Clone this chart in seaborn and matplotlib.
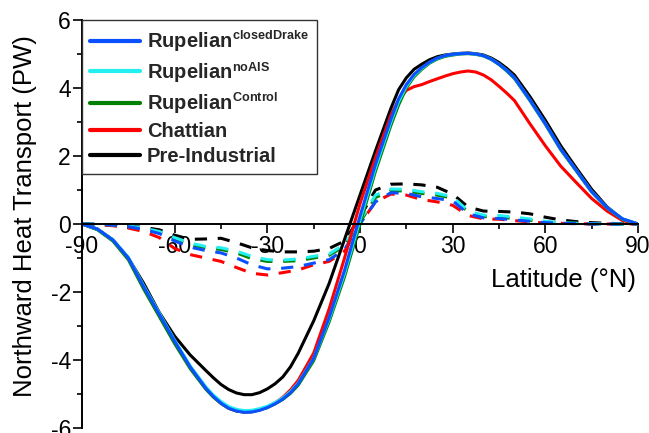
import numpy as np
import pandas as pd
import matplotlib
matplotlib.use("Agg")
import matplotlib.pyplot as plt
import seaborn as sns

try:
    import matplotlib._mathtext as _mt
    _mt.SHRINK_FACTOR = 0.63
except Exception:
    pass

# ---------------- data ----------------
# latitudes of the total (solid) heat transport curves
lat_total = [-90, -85, -80, -75, -70, -65, -60, -55, -50,
             -47.5, -45, -42.5, -40, -37.5, -35, -32.5, -30, -27.5, -25, -22.5, -20,
             -15, -10, -5, 0, 5, 10,
             12.5, 15, 17.5, 20, 22.5, 25, 27.5, 30, 32.5, 35, 37.5, 40, 42.5, 45, 47.5, 50,
             55, 60, 65, 70, 75, 80, 85, 90]

# total (solid) heat transport, PW
closed_drake = [0, -0.15, -0.47, -1.0, -1.85, -2.65, -3.45, -4.2, -4.82,
                -5.07, -5.27, -5.42, -5.5, -5.54, -5.53, -5.48, -5.4, -5.29, -5.15, -4.96, -4.7,
                -3.95, -2.75, -1.36, 0.23, 1.75, 3.08,
                3.68, 4.1, 4.4, 4.6, 4.76, 4.88, 4.95, 4.99, 5.01, 5.02, 5.0, 4.95, 4.85, 4.7, 4.52, 4.3,
                3.65, 2.95, 2.2, 1.58, 0.95, 0.48, 0.15, 0]
no_ais = [0, -0.15, -0.46, -0.98, -1.82, -2.62, -3.42, -4.17, -4.78,
          -5.03, -5.22, -5.37, -5.45, -5.49, -5.48, -5.43, -5.36, -5.25, -5.12, -4.93, -4.68,
          -3.95, -2.8, -1.45, 0.12, 1.65, 3.0,
          3.6, 4.05, 4.37, 4.58, 4.75, 4.87, 4.95, 4.99, 5.01, 5.02, 5.0, 4.95, 4.85, 4.7, 4.52, 4.3,
          3.65, 2.95, 2.2, 1.58, 0.95, 0.48, 0.15, 0]
control = [0, -0.17, -0.5, -1.05, -1.92, -2.72, -3.52, -4.25, -4.85,
           -5.09, -5.28, -5.42, -5.5, -5.53, -5.52, -5.47, -5.4, -5.29, -5.16, -4.98, -4.74,
           -4.02, -2.88, -1.55, 0.0, 1.55, 2.9,
           3.5, 4.0, 4.33, 4.55, 4.73, 4.85, 4.93, 4.97, 5.0, 5.01, 4.99, 4.94, 4.84, 4.69, 4.5, 4.28,
           3.63, 2.93, 2.18, 1.56, 0.94, 0.47, 0.14, 0]
chattian = [0, -0.15, -0.47, -1.0, -1.85, -2.65, -3.45, -4.2, -4.82,
            -5.07, -5.27, -5.42, -5.5, -5.53, -5.52, -5.46, -5.38, -5.26, -5.1, -4.88, -4.6,
            -3.8, -2.5, -1.0, 0.6, 1.95, 3.2,
            3.65, 3.93, 4.04, 4.1, 4.19, 4.27, 4.35, 4.42, 4.47, 4.5, 4.47, 4.38, 4.24, 4.05, 3.85, 3.63,
            2.95, 2.3, 1.7, 1.22, 0.75, 0.38, 0.1, 0]
pre_industrial = [0, -0.15, -0.47, -1.0, -1.75, -2.6, -3.3, -3.85, -4.3,
                  -4.52, -4.72, -4.87, -4.97, -5.02, -5.02, -4.96, -4.85, -4.7, -4.5, -4.2, -3.8,
                  -2.85, -1.75, -0.45, 0.85, 2.15, 3.4,
                  3.95, 4.3, 4.55, 4.7, 4.83, 4.92, 4.97, 5.0, 5.02, 5.03, 5.01, 4.97, 4.88, 4.75, 4.58, 4.38,
                  3.75, 3.05, 2.3, 1.65, 1.02, 0.5, 0.14, 0]

# latitudes of the ocean (dashed) heat transport curves
lat_ocean = list(range(-90, 95, 5))

# ocean (dashed) heat transport, PW
closed_drake_oc = [0, -0.01, -0.03, -0.08, -0.16, -0.28, -0.5, -0.68, -0.78, -0.85, -1.0, -1.2, -1.32,
                   -1.3, -1.25, -1.15, -1.05, -0.75, 0.0, 0.65, 0.92, 0.9, 0.8, 0.75, 0.68, 0.3,
                   0.18, 0.16, 0.12, 0.08, 0.04, 0.02, 0.01, 0.0, 0, 0, 0]
no_ais_oc = [0, -0.01, -0.02, -0.06, -0.12, -0.22, -0.4, -0.56, -0.66, -0.7, -0.8, -0.95, -1.05,
             -1.06, -1.03, -0.95, -0.88, -0.6, 0.1, 0.85, 1.03, 1.02, 0.95, 0.9, 0.8, 0.38,
             0.26, 0.25, 0.2, 0.15, 0.08, 0.04, 0.02, 0.01, 0, 0, 0]
control_oc = [0, -0.01, -0.02, -0.07, -0.14, -0.25, -0.44, -0.6, -0.7, -0.75, -0.85, -1.02, -1.1,
              -1.1, -1.08, -1.0, -0.92, -0.65, 0.05, 0.78, 0.98, 0.97, 0.9, 0.85, 0.76, 0.35,
              0.22, 0.2, 0.16, 0.11, 0.06, 0.03, 0.02, 0.01, 0, 0, 0]
chattian_oc = [0, -0.02, -0.05, -0.12, -0.22, -0.4, -0.72, -0.9, -1.0, -1.1, -1.28, -1.45, -1.5,
               -1.43, -1.35, -1.2, -1.1, -0.8, 0.0, 0.65, 0.88, 0.85, 0.72, 0.65, 0.55, 0.25,
               0.15, 0.14, 0.1, 0.06, 0.03, 0.02, 0.01, 0.0, 0, 0, 0]
pre_industrial_oc = [0, -0.01, -0.03, -0.06, -0.1, -0.17, -0.33, -0.45, -0.44, -0.42, -0.55, -0.7, -0.78,
                     -0.82, -0.82, -0.8, -0.72, -0.5, 0.2, 1.0, 1.17, 1.18, 1.15, 1.08, 0.88, 0.5,
                     0.38, 0.37, 0.35, 0.3, 0.2, 0.12, 0.07, 0.04, 0.02, 0.01, 0]

labels = [r"Rupelian$^{\mathbf{closedDrake}}$", r"Rupelian$^{\mathbf{noAIS}}$",
          r"Rupelian$^{\mathbf{Control}}$", "Chattian", "Pre-Industrial"]
colors = ["#0a50ff", "#22f0f0", "#008000", "#ff0000", "#000000"]
solid = [closed_drake, no_ais, control, chattian, pre_industrial]
dashed = [closed_drake_oc, no_ais_oc, control_oc, chattian_oc, pre_industrial_oc]

x_ticks = [-90, -60, -30, 0, 30, 60, 90]
x_tick_labels = ["-90", "-60", "-30", "0", "30", "60", "90"]
y_ticks = [-6, -4, -2, 0, 2, 4, 6]
y_tick_labels = ["-6", "-4", "-2", "0", "2", "4", "6"]

# ---------------- style ----------------
sns.set_theme(style="white")
plt.rcParams["font.family"] = ["Liberation Sans", "DejaVu Sans"]
plt.rcParams["mathtext.fontset"] = "custom"
plt.rcParams["mathtext.rm"] = "Liberation Sans"
plt.rcParams["mathtext.bf"] = "Liberation Sans:bold"

fig = plt.figure(figsize=(6.49, 4.33), dpi=100)
ax = fig.add_axes([82 / 649, 1 - 428 / 433, 556 / 649, 408 / 433])

# draw in reverse order so that closedDrake is on top
for i in reversed(range(5)):
    sns.lineplot(x=lat_ocean, y=dashed[i], ax=ax, color=colors[i], linewidth=2.2,
                 linestyle=(0, (4, 3.5)), legend=False)
for i in reversed(range(5)):
    sns.lineplot(x=lat_total, y=solid[i], ax=ax, color=colors[i], linewidth=2.2,
                 label=labels[i], legend=False)

ax.set_xlim(-90, 90)
ax.set_ylim(-6, 6)
ax.set_xticks(x_ticks)
ax.set_xticks([-75, -45, -15, 15, 45, 75], minor=True)
ax.set_yticks(y_ticks)
ax.set_yticks([-5, -3, -1, 1, 3, 5], minor=True)
ax.set_xticklabels(x_tick_labels)
ax.set_yticklabels(y_tick_labels)

for s in ["top", "right"]:
    ax.spines[s].set_visible(False)
ax.spines["bottom"].set_position(("data", 0))
for s in ["left", "bottom"]:
    ax.spines[s].set_color("black")
    ax.spines[s].set_linewidth(1.4)

ax.tick_params(axis="both", which="major", direction="out", length=6.5, width=1.2,
               color="black", labelsize=16.5, pad=1.5, labelcolor="black")
ax.tick_params(axis="both", which="minor", direction="out", length=3.5, width=1.2,
               color="black")
ax.tick_params(axis="x", which="both", bottom=True)
ax.tick_params(axis="y", which="both", left=True)

ax.set_xlabel("")
ax.set_ylabel("")
ax.text(89.5, -1.65, "Latitude (°N)", ha="right", va="center", fontsize=18.5, color="black")
fig.text(25 / 649, 1 - 216 / 433, "Northward Heat Transport (PW)", rotation=90,
         ha="center", va="center", fontsize=18.5, color="black")

handles, labs = ax.get_legend_handles_labels()
order = [labs.index(l) for l in labels]
leg = ax.legend([handles[k] for k in order], [labs[k] for k in order],
                loc="upper left", bbox_to_anchor=(0, 1), borderaxespad=0,
                prop={"weight": "bold", "size": 14.5}, frameon=True, fancybox=False,
                edgecolor="#333333", framealpha=1, handlelength=2.45, handletextpad=0.35,
                borderpad=0.42, labelspacing=0.3)
leg.get_frame().set_linewidth(1.0)
for h in leg.get_lines():
    h.set_linewidth(3)

fig.savefig("out.png", dpi=100)
